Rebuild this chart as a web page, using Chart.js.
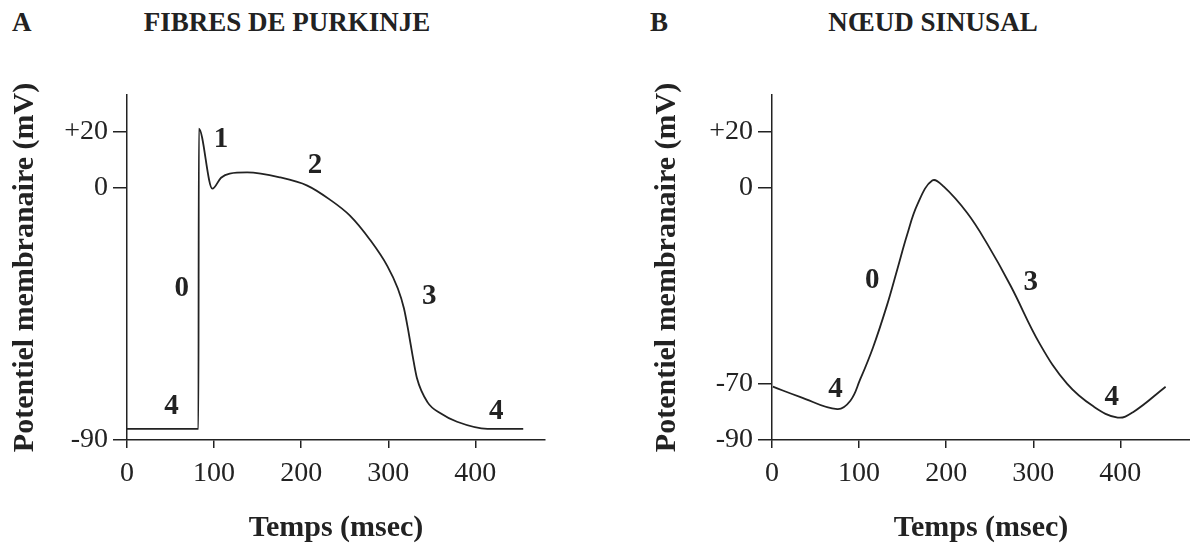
<!DOCTYPE html>
<html lang="fr">
<head>
<meta charset="UTF-8" />
<title>Potentiels d'action cardiaques</title>
<script src="https://cdn.jsdelivr.net/npm/chart.js"></script>
<style>
  body { margin: 0; background: #fff; }
  #wrap { position: relative; width: 1190px; height: 547px; overflow: hidden; }
  .box { position: absolute; top: 0; width: 595px; height: 547px; }
  .lbl { position: absolute; top: 9px; font: bold 27px "Liberation Serif", serif; line-height: 1; color: #222; white-space: nowrap; }
</style>
</head>
<body>
<div id="wrap">
  <div class="lbl" style="left:12px">A</div>
  <div class="lbl" style="left:287px; transform:translateX(-50%)">FIBRES DE PURKINJE</div>
  <div class="lbl" style="left:650px">B</div>
  <div class="lbl" style="left:933px; transform:translateX(-50%)">NŒUD SINUSAL</div>
  <div class="box" style="left:0"><canvas id="chartA" width="595" height="547"></canvas></div>
  <div class="box" style="left:595px"><canvas id="chartB" width="595" height="547"></canvas></div>
</div>

<script>
  // valeurs (temps en ms, potentiel en mV)
  const tempsPurkinje = [0, 82, 82.5, 98, 108, 118, 138, 176, 207, 233, 256, 279, 299, 311, 318, 323, 328, 333, 345, 360, 379, 414, 455];
  const potentielPurkinje = [-86, -86, 21, -0.4, 3.5, 5, 5.4, 3.6, 0.7, -4.3, -10, -18.6, -28, -36, -43, -51, -60, -68, -76.5, -80.5, -83.5, -86, -86];

  const tempsSinusal = [1, 32, 75, 90, 101, 116, 132, 144, 155, 167, 184, 197, 224, 247, 274, 308, 339, 369, 397, 415, 452];
  const potentielSinusal = [-71, -74.6, -79, -76, -68.6, -57, -42, -29, -17, -6, 2.5, 0.4, -9, -20, -35, -56, -70, -78, -82, -80, -71];

  const ticksX = [0, 100, 200, 300, 400];
  const ticksYPurkinje = [-90, 0, 20];
  const ticksYSinusal = [-90, -70, 0, 20];

  const phasesPurkinje = ['4', '0', '1', '2', '3', '4'];
  const phasesSinusal = ['4', '0', '3', '4'];

  Chart.defaults.font.family = '"Liberation Serif", serif';
  Chart.defaults.color = '#222';

  // numéros des phases écrits à côté de la courbe
  const phaseLabels = {
    id: 'phaseLabels',
    afterDatasetsDraw(chart, args, opts) {
      const { ctx, scales: { x, y } } = chart;
      ctx.save();
      ctx.font = 'bold 29px "Liberation Serif", serif';
      ctx.fillStyle = '#222';
      ctx.textAlign = 'center';
      ctx.textBaseline = 'middle';
      opts.texts.forEach((t, i) => {
        const p = opts.at[i];
        ctx.fillText(t, x.getPixelForValue(p[0]), y.getPixelForValue(p[1]));
      });
      ctx.restore();
    }
  };

  function makeChart(id, temps, potentiel, yTicks, phases, phasePos, padLeft, padRight, axisWidth, smooth) {
    const points = temps.map((t, i) => ({ x: t, y: potentiel[i] }));
    return new Chart(document.getElementById(id), {
      type: 'line',
      data: {
        datasets: [Object.assign({
          data: points,
          borderColor: '#222',
          borderWidth: 1.8,
          pointRadius: 0,
          fill: false
        }, smooth)]
      },
      options: {
        responsive: false,
        animation: false,
        layout: { padding: { top: 95, left: padLeft, right: padRight, bottom: 0 } },
        plugins: {
          legend: { display: false },
          tooltip: { enabled: false },
          phaseLabels: { texts: phases, at: phasePos }
        },
        scales: {
          x: {
            type: 'linear',
            min: 0,
            max: 480,
            afterBuildTicks: s => { s.ticks = ticksX.map(v => ({ value: v })); },
            afterFit: s => { s.height = 107; },
            grid: { drawOnChartArea: false, tickLength: 8, color: '#222', lineWidth: 1.5 },
            border: { color: '#222', width: 1.5 },
            ticks: { font: { size: 28 }, padding: 9, maxRotation: 0 },
            title: { display: true, text: 'Temps (msec)', font: { size: 30, weight: 'bold' }, padding: { top: 0, bottom: 1 } }
          },
          y: {
            min: -90,
            max: 33,
            afterBuildTicks: s => { s.ticks = yTicks.map(v => ({ value: v })); },
            afterFit: s => { s.width = axisWidth; },
            grid: { drawOnChartArea: false, tickLength: 14, color: '#222', lineWidth: 1.5 },
            border: { color: '#222', width: 1.5 },
            ticks: { font: { size: 28 }, padding: 5, callback: v => v > 0 ? '+' + v : String(v) },
            title: { display: true, text: 'Potentiel membranaire (mV)', font: { size: 30, weight: 'bold' }, padding: { top: 4, bottom: 0 } }
          }
        }
      },
      plugins: [phaseLabels]
    });
  }

  makeChart('chartA', tempsPurkinje, potentielPurkinje, ticksYPurkinje, phasesPurkinje,
    [[51, -78], [63, -36], [108, 17], [216, 8], [347, -39], [424, -80]], 3, 50, 124,
    { cubicInterpolationMode: 'monotone' });
  makeChart('chartB', tempsSinusal, potentielSinusal, ticksYSinusal, phasesSinusal,
    [[73, -72], [115, -33], [297, -34], [390, -75]], 50, 0, 127,
    { tension: 0.4 });
</script>
</body>
</html>
